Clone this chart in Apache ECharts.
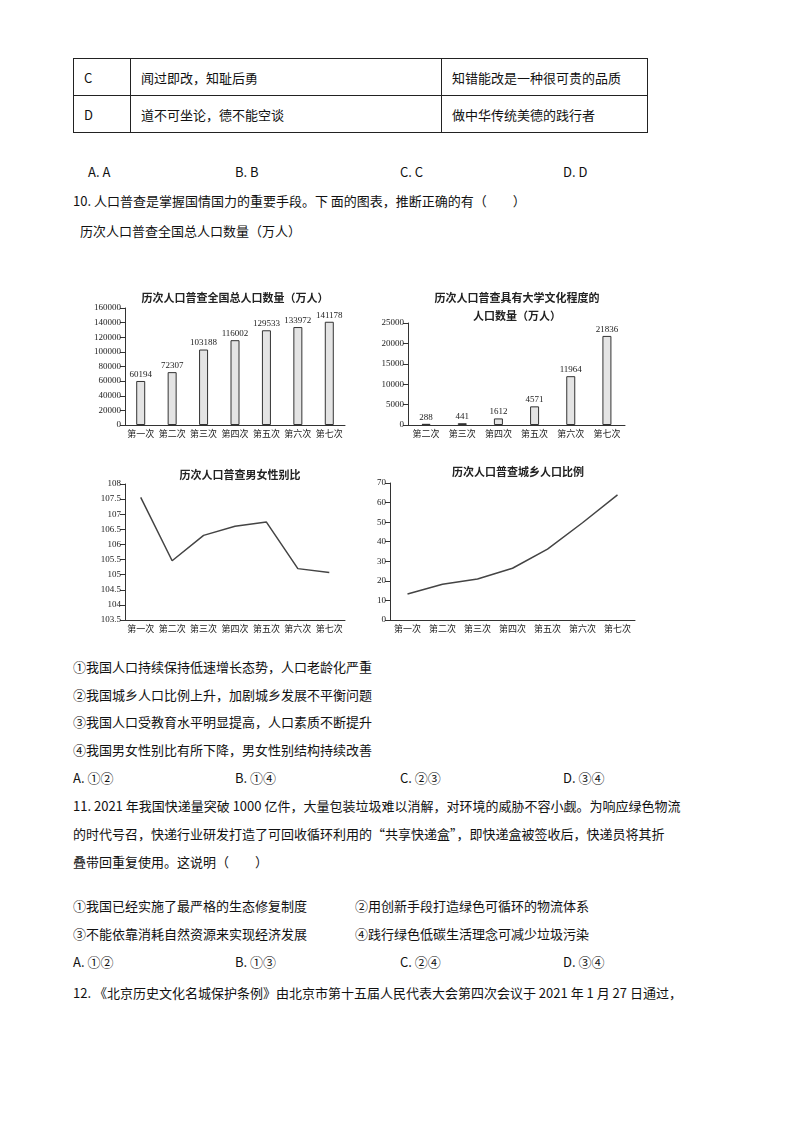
<!DOCTYPE html>
<html><head><meta charset="utf-8">
<script src="https://cdn.jsdelivr.net/npm/echarts@6/dist/echarts.min.js"></script>
<style>
body{margin:0;width:800px;height:1132px;background:#fff;font-family:"Noto Sans CJK SC",sans-serif;color:#111;font-size:13px;position:relative}
.t{position:absolute;white-space:nowrap;line-height:18px}
table{position:absolute;left:73px;top:58px;border-collapse:collapse}
td{border:1px solid #222;height:36px;padding:0 10px;font-size:13px}
#c{position:absolute;left:0;top:270px;width:800px;height:370px}
</style></head><body>
<table>
<tr><td style="width:36px">C</td><td style="width:290px">闻过即改，知耻后勇</td><td style="width:185px">知错能改是一种很可贵的品质</td></tr>
<tr><td>D</td><td>道不可坐论，德不能空谈</td><td>做中华传统美德的践行者</td></tr>
</table>
<div class="t" style="left:88px;top:163px">A. A</div>
<div class="t" style="left:235px;top:163px">B. B</div>
<div class="t" style="left:400px;top:163px">C. C</div>
<div class="t" style="left:563px;top:163px">D. D</div>
<div class="t" style="left:73px;top:192px">10. 人口普查是掌握国情国力的重要手段。下 面的图表，推断正确的有（　　）</div>
<div class="t" style="left:80px;top:222px">历次人口普查全国总人口数量（万人）</div>
<div id="c"></div>
<div class="t" style="left:73px;top:658px">①我国人口持续保持低速增长态势，人口老龄化严重</div>
<div class="t" style="left:73px;top:686px">②我国城乡人口比例上升，加剧城乡发展不平衡问题</div>
<div class="t" style="left:73px;top:713px">③我国人口受教育水平明显提高，人口素质不断提升</div>
<div class="t" style="left:73px;top:741px">④我国男女性别比有所下降，男女性别结构持续改善</div>
<div class="t" style="left:73px;top:769px">A. ①②</div>
<div class="t" style="left:235px;top:769px">B. ①④</div>
<div class="t" style="left:400px;top:769px">C. ②③</div>
<div class="t" style="left:563px;top:769px">D. ③④</div>
<div class="t" style="left:73px;top:797px">11. 2021 年我国快递量突破 1000 亿件，大量包装垃圾难以消解，对环境的威胁不容小觑。为响应绿色物流</div>
<div class="t" style="left:73px;top:825px">的时代号召，快递行业研发打造了可回收循环利用的“共享快递盒”，即快递盒被签收后，快递员将其折</div>
<div class="t" style="left:73px;top:853px">叠带回重复使用。这说明（　　）</div>
<div class="t" style="left:73px;top:897px">①我国已经实施了最严格的生态修复制度</div>
<div class="t" style="left:355px;top:897px">②用创新手段打造绿色可循环的物流体系</div>
<div class="t" style="left:73px;top:925px">③不能依靠消耗自然资源来实现经济发展</div>
<div class="t" style="left:355px;top:925px">④践行绿色低碳生活理念可减少垃圾污染</div>
<div class="t" style="left:73px;top:953px">A. ①②</div>
<div class="t" style="left:235px;top:953px">B. ①③</div>
<div class="t" style="left:400px;top:953px">C. ②④</div>
<div class="t" style="left:563px;top:953px">D. ③④</div>
<div class="t" style="left:73px;top:984px">12. 《北京历史文化名城保护条例》由北京市第十五届人民代表大会第四次会议于 2021 年 1 月 27 日通过，</div>
<script>
var censusAll = ['第一次','第二次','第三次','第四次','第五次','第六次','第七次'];
var censusEdu = ['第二次','第三次','第四次','第五次','第六次','第七次'];
var totalPop = [60194, 72307, 103188, 116002, 129533, 133972, 141178];
var eduPop = [288, 441, 1612, 4571, 11964, 21836];
var sexRatio = [107.56, 105.46, 106.3, 106.6, 106.74, 105.2, 105.07];
var urbanRate = [13.26, 18.3, 20.91, 26.44, 36.22, 49.68, 63.89];

var num = 'Liberation Serif';
var ax = {color:'#333'};
function xAxis(i, cats) {
  return {type:'category', gridIndex:i, data:cats, axisLine:{lineStyle:ax}, axisTick:{lineStyle:ax},
    axisLabel:{color:'#222', fontSize:9, margin:4, interval:0, fontFamily:'Noto Sans CJK SC'}};
}
function yAxis(i, min, max, step) {
  return {type:'value', gridIndex:i, min:min, max:max, interval:step, splitLine:{show:false},
    axisLine:{show:true, lineStyle:ax}, axisTick:{show:true, lineStyle:ax},
    axisLabel:{color:'#222', fontSize:9, margin:4, fontFamily:num, formatter:function (v) { return String(v); }}};
}
function pts(vals, pos) {
  return vals.map(function (v, k) {
    return {value:v, label:{show:true, position:pos[k][0], offset:pos[k].slice(1),
      fontFamily:num, fontSize:10, color:'#222'}};
  });
}
var titleStyle = {fontSize:11, fontWeight:'bold', color:'#222', fontFamily:'Noto Sans CJK SC', lineHeight:18};
var bar = {color:'#e4e4e4', borderColor:'#333', borderWidth:1};
var barLabel = {show:true, position:'top', distance:2, fontFamily:num, fontSize:9, color:'#222'};

var chart = echarts.init(document.getElementById('c'));
chart.setOption({
  animation:false,
  title:[
    {text:'历次人口普查全国总人口数量（万人）', left:230, top:14, textAlign:'center', textStyle:titleStyle},
    {text:'历次人口普查具有大学文化程度的\n人口数量（万人）', left:512, top:14, textAlign:'center', textStyle:titleStyle},
    {text:'历次人口普查男女性别比', left:235, top:191, textAlign:'center', textStyle:titleStyle},
    {text:'历次人口普查城乡人口比例', left:513, top:188, textAlign:'center', textStyle:titleStyle}
  ],
  grid:[
    {left:125, top:38, width:220, height:117},
    {left:408, top:53, width:217, height:102},
    {left:125, top:214, width:220, height:136},
    {left:390, top:213, width:245, height:137}
  ],
  xAxis:[xAxis(0, censusAll), xAxis(1, censusEdu), xAxis(2, censusAll), xAxis(3, censusAll)],
  yAxis:[yAxis(0, 0, 160000, 20000), yAxis(1, 0, 25000, 5000), yAxis(2, 103.5, 108, 0.5), yAxis(3, 0, 70, 10)],
  series:[
    {type:'bar', xAxisIndex:0, yAxisIndex:0, data:totalPop, barWidth:9, itemStyle:bar, label:barLabel},
    {type:'bar', xAxisIndex:1, yAxisIndex:1, data:eduPop, barWidth:9, itemStyle:bar, label:barLabel},
    {type:'line', xAxisIndex:2, yAxisIndex:2, symbol:'none', showSymbol:false, lineStyle:{color:'#444', width:1.5},
      data:pts(sexRatio, [['top',0,0],['bottom',0,2],['top',-6,0],['top',0,0],['top',4,0],['bottom',0,0],['top',2,0]])},
    {type:'line', xAxisIndex:3, yAxisIndex:3, symbol:'none', showSymbol:false, lineStyle:{color:'#444', width:1.5},
      data:pts(urbanRate, [['bottom',4,6],['top',4,0],['bottom',6,2],['top',-6,0],['bottom',8,4],['bottom',6,4],['top',0,0]])}
  ]
});
</script>
</body></html>
